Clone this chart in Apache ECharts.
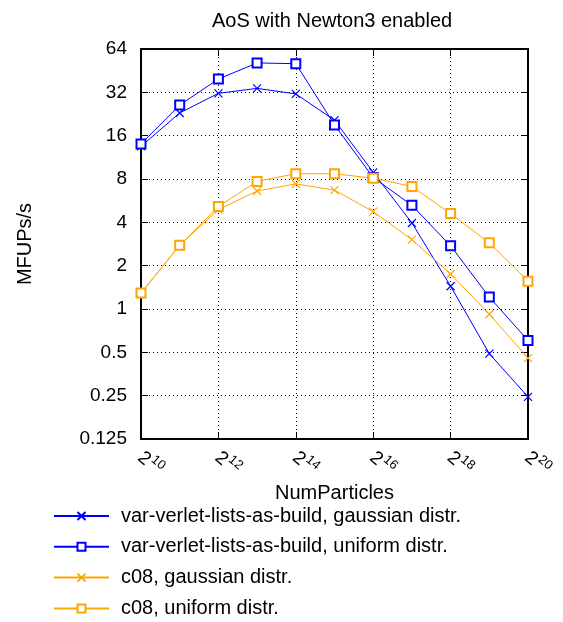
<!DOCTYPE html>
<html>
<head>
<meta charset="utf-8">
<script src="https://cdn.jsdelivr.net/npm/echarts@6/dist/echarts.min.js"></script>
<style>
  html, body { margin: 0; padding: 0; background: #fff; }
  #chart { width: 563px; height: 622px; }
</style>
</head>
<body>
<div id="chart"></div>
<script>
// Problem sizes as powers of two: NumParticles = 2^exponent
const exponents = [10, 11, 12, 13, 14, 15, 16, 17, 18, 19, 20];

// Throughput in MFUPs/s
const vvlGaussian = [13.5, 23.0, 31.5, 34.1, 31.2, 20.5, 8.9, 3.96, 1.44, 0.49, 0.245];
const vvlUniform  = [14.0, 26.1, 39.6, 51.2, 50.6, 19.0, 8.2, 5.25, 2.75, 1.21, 0.605];
const c08Gaussian = [1.29, 2.77, 4.9, 6.6, 7.4, 6.7, 4.75, 3.03, 1.75, 0.92, 0.456];
const c08Uniform  = [1.29, 2.77, 5.15, 7.7, 8.7, 8.7, 8.1, 7.1, 4.6, 2.88, 1.56];

const seriesNames = [
  'var-verlet-lists-as-build, gaussian distr.',
  'var-verlet-lists-as-build, uniform distr.',
  'c08, gaussian distr.',
  'c08, uniform distr.'
];

const BLUE = '#0000ff';
const ORANGE = '#ffa500';
const FONT = 'Liberation Sans, Arial, sans-serif';
const CROSS = 'path://M0,0L10,10M10,0L0,10';

function pairs(values) {
  return exponents.map((e, i) => [e, values[i]]);
}

function lineSeries(name, values, color, symbol) {
  return {
    name: name,
    type: 'line',
    xAxisIndex: 0,
    yAxisIndex: 0,
    data: pairs(values),
    symbol: symbol,
    symbolSize: symbol === CROSS ? 8 : 9,
    showAllSymbol: true,
    lineStyle: { color: color, width: 1 },
    itemStyle: { color: color, borderColor: color, borderWidth: 1.2 },
    emphasis: { disabled: true },
    animation: false
  };
}

const chart = echarts.init(document.getElementById('chart'), null, { renderer: 'canvas' });

const gridLine = { show: true, lineStyle: { color: '#000', type: [1, 3], width: 1 } };
const frameLine = { show: true, lineStyle: { color: '#000', width: 2 } };
const innerTick = { show: true, inside: true, length: 7, lineStyle: { color: '#000', width: 1 } };

chart.setOption({
  backgroundColor: '#fff',
  animation: false,
  title: {
    text: 'AoS with Newton3 enabled',
    left: 207,
    top: 6,
    textStyle: { fontFamily: FONT, fontSize: 20, fontWeight: 'normal', color: '#000' }
  },
  grid: { left: 141, right: 35, top: 49, bottom: 183, show: false },
  legend: {
    orient: 'vertical',
    left: 53,
    top: 506,
    padding: 0,
    itemWidth: 55,
    itemHeight: 10,
    itemGap: 10.8,
    textStyle: { fontFamily: FONT, fontSize: 20, color: '#000', lineHeight: 20, padding: [0, 0, 0, 7] },
    data: seriesNames
  },
  xAxis: [
    {
      type: 'value',
      min: 10,
      max: 20,
      interval: 2,
      position: 'bottom',
      name: 'NumParticles',
      nameLocation: 'middle',
      nameGap: 44,
      nameMoveOverlap: false,
      nameTextStyle: { fontFamily: FONT, fontSize: 20, color: '#000' },
      axisLine: frameLine,
      axisTick: innerTick,
      splitLine: gridLine,
      axisLabel: {
        rotate: -40,
        margin: 15,
        formatter: v => '{b|2}{s|' + v + '}',
        rich: {
          b: { fontFamily: FONT, fontSize: 19, color: '#000', verticalAlign: 'bottom' },
          s: { fontFamily: FONT, fontSize: 13, color: '#000', verticalAlign: 'bottom', padding: [0, 0, 9, 1] }
        }
      }
    },
    {
      type: 'value',
      min: 10,
      max: 20,
      interval: 2,
      position: 'top',
      axisLine: frameLine,
      axisTick: innerTick,
      splitLine: { show: false },
      axisLabel: { show: false }
    }
  ],
  yAxis: [
    {
      type: 'log',
      logBase: 2,
      min: 0.125,
      max: 64,
      position: 'left',
      name: 'MFUPs/s',
      nameLocation: 'middle',
      nameGap: 106,
      nameMoveOverlap: false,
      nameTextStyle: { fontFamily: FONT, fontSize: 20, color: '#000' },
      axisLine: frameLine,
      axisTick: innerTick,
      splitLine: gridLine,
      axisLabel: {
        margin: 14,
        fontFamily: FONT,
        fontSize: 19,
        color: '#000',
        formatter: v => String(+Number(v).toPrecision(6))
      }
    },
    {
      type: 'log',
      logBase: 2,
      min: 0.125,
      max: 64,
      position: 'right',
      axisLine: frameLine,
      axisTick: innerTick,
      splitLine: { show: false },
      axisLabel: { show: false }
    }
  ],
  series: [
    lineSeries(seriesNames[0], vvlGaussian, BLUE, CROSS),
    lineSeries(seriesNames[1], vvlUniform, BLUE, 'emptyRect'),
    lineSeries(seriesNames[2], c08Gaussian, ORANGE, CROSS),
    lineSeries(seriesNames[3], c08Uniform, ORANGE, 'emptyRect')
  ]
});
</script>
</body>
</html>
